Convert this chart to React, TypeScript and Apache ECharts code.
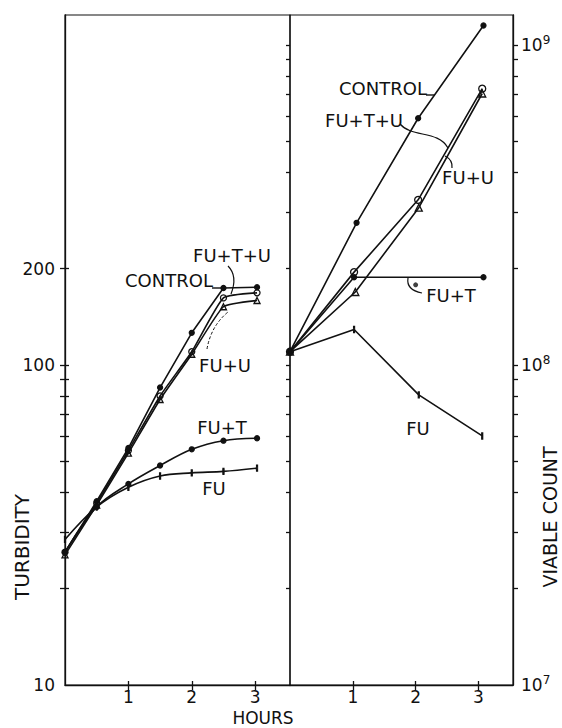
import React, { useEffect, useRef } from 'react';
import * as echarts from 'echarts';

// ---------- axis definitions ----------
const hoursMax = 3.55;
const hourTicks = [1, 2, 3];

const turbidityMin = 10;
const turbidityMax = 1240;
const turbidityLabels = [10, 100, 200];
const turbidityTicks = [20, 30, 40, 50, 60, 70, 80, 90, 100, 200];

const countMin = 1e7;
const countMax = 1.24e9;
const countLabelValues = [1e7, 1e8, 1e9];
const countTicks = [
  2e7, 3e7, 4e7, 5e7, 6e7, 7e7, 8e7, 9e7, 1e8,
  2e8, 3e8, 4e8, 5e8, 6e8, 7e8, 8e8, 9e8, 1e9,
];

// ---------- turbidity (left panel): [hours, turbidity] ----------
const turbControl = [[0, 26], [0.5, 37.5], [1, 55], [1.5, 85], [2, 126], [2.5, 174], [3.03, 175]];
const turbFuTU = [[0, 26], [0.5, 37], [1, 54], [1.5, 80], [2, 110], [2.5, 162], [3.03, 168]];
const turbFuU = [[0, 25.5], [0.5, 36.5], [1, 53], [1.5, 78], [2, 108], [2.5, 152], [3.03, 159]];
const turbFuT = [[0, 26], [0.5, 36], [1, 42.5], [1.5, 48.5], [2, 54.5], [2.5, 58], [3.03, 59]];
const turbFu = [[0, 28.5], [0.5, 36], [1, 41.5], [1.5, 45], [2, 46], [2.5, 46.5], [3.03, 47.6]];

// ---------- viable count (right panel): [hours, count] ----------
const countControl = [[0, 1.1e8], [1.06, 2.78e8], [2.04, 5.9e8], [3.08, 1.15e9]];
const countFuTU = [[0, 1.1e8], [1.02, 1.95e8], [2.04, 3.28e8], [3.06, 7.3e8]];
const countFuU = [[0, 1.1e8], [1.04, 1.69e8], [2.05, 3.1e8], [3.06, 7.05e8]];
const countFuT = [[0, 1.1e8], [1.02, 1.88e8], [3.08, 1.88e8]];
const countFuTExtra = [[2.0, 1.78e8]];
const countFu = [[0, 1.1e8], [1.02, 1.29e8], [2.05, 8.06e7], [3.06, 6.0e7]];

const INK = '#111';
const FONT = 'DejaVu Sans';
const CLEAR = 'rgba(0,0,0,0)';

const log10 = (v: number) => Math.log10(v);

export default function App() {
  const ref = useRef<HTMLDivElement>(null);

  useEffect(() => {
    if (!ref.current) return;
    const chart = echarts.init(ref.current, null, { renderer: 'svg' });

    const lineStyle = { color: INK, width: 1.6 };
    const tickStyle = { color: INK, width: 1.3 };
    const axisLineStyle = { color: INK, width: 1.3 };

    const mk = (
      name: string,
      data: number[][],
      xi: number,
      yi: number,
      symbol: string,
      size: number | number[],
      smooth: number | boolean,
      filled = true,
    ) => ({
      name,
      type: 'line',
      data,
      xAxisIndex: xi,
      yAxisIndex: yi,
      smooth,
      symbol,
      symbolSize: size,
      showSymbol: true,
      lineStyle,
      itemStyle: { color: filled ? INK : CLEAR, borderColor: INK, borderWidth: 1.3 },
      z: 3,
    });

    const leftLogTicks = turbidityTicks.map(log10);
    const rightLogTicks = countTicks.map(log10);

    const xMain = (gridIndex: number) => ({
      type: 'value', gridIndex, min: 0, max: hoursMax, position: 'bottom',
      splitLine: { show: false },
      axisLine: { show: true, lineStyle: axisLineStyle },
      axisTick: { show: true, inside: false, length: 5, customValues: hourTicks, lineStyle: tickStyle },
      axisLabel: { show: true, customValues: hourTicks, margin: 4, fontSize: 17, lineHeight: 16, fontFamily: FONT, color: INK },
    });
    const xInside = (gridIndex: number) => ({
      type: 'value', gridIndex, min: 0, max: hoursMax, position: 'bottom',
      splitLine: { show: false }, axisLine: { show: false }, axisLabel: { show: false },
      axisTick: { show: true, inside: true, length: 4, customValues: hourTicks, lineStyle: tickStyle },
    });

    const txt = (x: number, y: number, text: string, size = 18, rotation = 0) => ({
      type: 'text', x, y, rotation,
      style: { text, fontSize: size, lineHeight: size - 2, fontFamily: FONT, fill: INK, align: 'center', verticalAlign: 'middle' },
    });

    const leftRect = { left: 65, top: 15, width: 225, height: 670 };
    const rightRect = { left: 290, top: 15, width: 223, height: 670 };

    const option: any = {
      animation: false,
      backgroundColor: '#fff',
      grid: [
        { ...leftRect, show: true, borderColor: INK, borderWidth: 1.2, backgroundColor: 'transparent', outerBoundsMode: 'none' },
        { ...rightRect, show: true, borderColor: INK, borderWidth: 1.2, backgroundColor: 'transparent', outerBoundsMode: 'none' },
        { ...leftRect, show: false, outerBoundsMode: 'none' },
        { ...rightRect, show: false, outerBoundsMode: 'none' },
      ],
      xAxis: [xMain(0), xMain(1), xInside(2), xInside(3)],
      yAxis: [
        // 0: left data axis (log, hidden)
        { type: 'log', logBase: 10, gridIndex: 0, position: 'right', min: turbidityMin, max: turbidityMax, show: false },
        // 1: left decoration axis (log10 space): outside ticks + labels
        {
          type: 'value', gridIndex: 0, position: 'left',
          min: log10(turbidityMin), max: log10(turbidityMax),
          splitLine: { show: false },
          axisLine: { show: true, lineStyle: axisLineStyle },
          axisTick: { show: true, inside: false, length: 5, customValues: leftLogTicks, lineStyle: tickStyle },
          axisLabel: {
            show: true, customValues: turbidityLabels.map(log10), margin: 10,
            fontSize: 17, fontFamily: FONT, color: INK,
            formatter: (v: number) => String(Math.round(Math.pow(10, v))),
          },
        },
        // 2: right data axis (log, hidden)
        { type: 'log', logBase: 10, gridIndex: 1, position: 'left', min: countMin, max: countMax, show: false },
        // 3: right decoration axis
        {
          type: 'value', gridIndex: 1, position: 'right',
          min: log10(countMin), max: log10(countMax),
          splitLine: { show: false },
          axisLine: { show: true, lineStyle: axisLineStyle },
          axisTick: { show: true, inside: false, length: 5, customValues: rightLogTicks, lineStyle: tickStyle },
          axisLabel: {
            show: true, customValues: countLabelValues.map(log10), margin: 8,
            formatter: (v: number) => `{b|10}{s|${Math.round(v)}}`,
            rich: {
              b: { fontSize: 17, fontFamily: FONT, color: INK },
              s: { fontSize: 12, fontFamily: FONT, color: INK, verticalAlign: 'top', padding: [0, 0, 10, 0] },
            },
          },
        },
        // 4: left inside ticks (overlay grid)
        {
          type: 'value', gridIndex: 2, position: 'left',
          min: log10(turbidityMin), max: log10(turbidityMax),
          splitLine: { show: false }, axisLine: { show: false }, axisLabel: { show: false },
          axisTick: { show: true, inside: true, length: 4, customValues: leftLogTicks, lineStyle: tickStyle },
        },
        // 5: right inside ticks (overlay grid)
        {
          type: 'value', gridIndex: 3, position: 'right',
          min: log10(countMin), max: log10(countMax),
          splitLine: { show: false }, axisLine: { show: false }, axisLabel: { show: false },
          axisTick: { show: true, inside: true, length: 4, customValues: rightLogTicks, lineStyle: tickStyle },
        },
      ],
      series: [
        mk('CONTROL', turbControl, 0, 0, 'circle', 5, false),
        mk('FU+T+U', turbFuTU, 0, 0, 'circle', 6, 0.15, false),
        mk('FU+U', turbFuU, 0, 0, 'triangle', 6, 0.15, false),
        mk('FU+T', turbFuT, 0, 0, 'circle', 5, 0.35),
        mk('FU', turbFu, 0, 0, 'rect', [1.5, 5], 0.35),
        mk('CONTROL ', countControl, 1, 2, 'circle', 5, false),
        mk('FU+T+U ', countFuTU, 1, 2, 'circle', 7, false, false),
        mk('FU+U ', countFuU, 1, 2, 'triangle', 7, false, false),
        mk('FU+T ', countFuT, 1, 2, 'circle', 5, false),
        {
          name: 'FU+T 2h', type: 'scatter', data: countFuTExtra, xAxisIndex: 1, yAxisIndex: 2,
          symbol: 'circle', symbolSize: 5, itemStyle: { color: INK }, z: 3,
        },
        mk('FU ', countFu, 1, 2, 'rect', [1.5, 5], false),
      ],
      graphic: [
        // axis titles
        txt(22, 547, 'TURBIDITY', 20, Math.PI / 2),
        txt(550, 517, 'VIABLE COUNT', 19, Math.PI / 2),
        txt(263, 718, 'HOURS', 17),
        // left panel labels
        txt(232, 255, 'FU+T+U'),
        txt(169, 280, 'CONTROL'),
        txt(225, 365, 'FU+U'),
        txt(222, 427, 'FU+T'),
        txt(214, 488, 'FU'),
        { type: 'bezierCurve', shape: { x1: 228, y1: 266, cpx1: 238, cpy1: 276, x2: 231, y2: 294 }, style: { stroke: INK, lineWidth: 1.2, fill: 'none' } },
        { type: 'line', shape: { x1: 212, y1: 288, x2: 224, y2: 288 }, style: { stroke: INK, lineWidth: 1.4 } },
        { type: 'bezierCurve', shape: { x1: 207, y1: 349, cpx1: 211, cpy1: 326, x2: 228, y2: 312 }, style: { stroke: INK, lineWidth: 1, fill: 'none', lineDash: [3, 2] } },
        // right panel labels
        txt(383, 88, 'CONTROL'),
        txt(364, 120, 'FU+T+U'),
        txt(468, 177, 'FU+U'),
        txt(451, 295, 'FU+T'),
        txt(418, 428, 'FU'),
        { type: 'line', shape: { x1: 426, y1: 95, x2: 435, y2: 95 }, style: { stroke: INK, lineWidth: 1.4 } },
        { type: 'bezierCurve', shape: { x1: 400, y1: 124, cpx1: 412, cpy1: 138, cpx2: 438, cpy2: 130, x2: 448, y2: 148 }, style: { stroke: INK, lineWidth: 1.2, fill: 'none' } },
        { type: 'bezierCurve', shape: { x1: 445, y1: 156, cpx1: 453, cpy1: 160, x2: 452, y2: 168 }, style: { stroke: INK, lineWidth: 1.2, fill: 'none' } },
        { type: 'bezierCurve', shape: { x1: 408, y1: 278, cpx1: 406, cpy1: 290, x2: 422, y2: 293 }, style: { stroke: INK, lineWidth: 1.2, fill: 'none' } },
      ],
    };

    chart.setOption(option);
    return () => chart.dispose();
  }, []);

  return (
    <div
      ref={ref}
      style={{ position: 'fixed', left: 0, top: 0, width: 562, height: 728, background: '#fff' }}
    />
  );
}
